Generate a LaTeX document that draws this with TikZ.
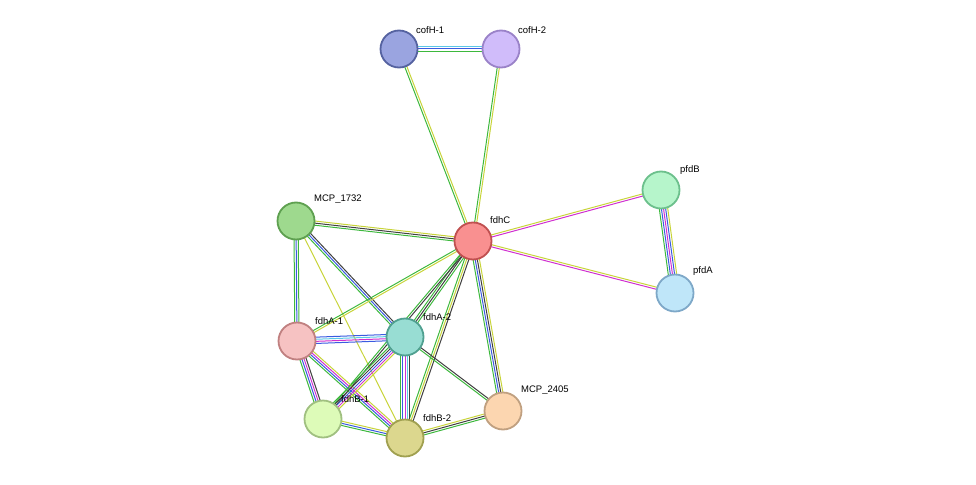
\documentclass[tikz,border=0pt]{standalone}
\usepackage{fontspec}
\setmainfont{Liberation Sans}
\usetikzlibrary{calc}
\definecolor{sgreen}{HTML}{3DB83D}
\definecolor{sblue}{HTML}{3B5BE0}
\definecolor{scyan}{HTML}{5CC8E8}
\definecolor{smag}{HTML}{D030D0}
\definecolor{syel}{HTML}{C8D43A}
\definecolor{sblack}{HTML}{404040}
\tikzset{
  prot/.style={circle,minimum size=37pt,inner sep=0pt,line width=1.8pt},
  lab/.style={font=\fontsize{9.5}{11}\selectfont,anchor=south west,inner sep=1pt},
}
% multi-coloured STRING edge
\newcommand{\sedge}[3]{%
  \foreach \c [count=\i] in {#3} {\xdef\nn{\i}}
  \foreach \c [count=\i] in {#3} {
    \pgfmathsetmacro{\o}{(\i-(\nn+1)/2)*2.1}
    \draw[\c,line width=1pt] ($(#1)!\o pt!90:(#2)$) -- ($(#2)!\o pt!-90:(#1)$);
  }}
\begin{document}
\begin{tikzpicture}[x=1pt,y=-1pt]
\useasboundingbox (0,0) rectangle (976,484);

\coordinate (cofH1) at (399,49);
\coordinate (cofH2) at (501,49);
\coordinate (pfdB) at (661,190);
\coordinate (fdhC) at (473,241);
\coordinate (mcp1732) at (296,221);
\coordinate (pfdA) at (675,293);
\coordinate (fdhA1) at (297,341);
\coordinate (fdhA2) at (405,337);
\coordinate (fdhB1) at (323,419);
\coordinate (fdhB2) at (405,438);
\coordinate (mcp2405) at (503,411);

\sedge{cofH1}{cofH2}{sgreen,sblue,scyan}
\sedge{cofH1}{fdhC}{sgreen,syel}
\sedge{cofH2}{fdhC}{sgreen,syel}
\sedge{fdhC}{pfdB}{smag,syel}
\sedge{fdhC}{pfdA}{smag,syel}
\sedge{pfdB}{pfdA}{sgreen,sblue,smag,sblue,syel}
\sedge{mcp1732}{fdhC}{sgreen,sblack,syel}
\sedge{mcp1732}{fdhA1}{sgreen,sblue,sgreen}
\sedge{mcp1732}{fdhA2}{sgreen,sblue,sblack}
\sedge{mcp1732}{fdhB2}{syel}
\sedge{fdhC}{fdhA1}{sgreen,syel}
\sedge{fdhC}{fdhA2}{sgreen,sblack,sgreen}
\sedge{fdhC}{fdhB1}{sgreen,sblack}
\sedge{fdhC}{fdhB2}{sgreen,syel,sblack}
\sedge{fdhC}{mcp2405}{sgreen,sblue,sblack,syel}
\sedge{fdhA1}{fdhA2}{sblue,smag,scyan,sblue}
\sedge{fdhA1}{fdhB1}{sgreen,sblue,smag,sblack}
\sedge{fdhA1}{fdhB2}{sgreen,sblue,smag,syel}
\sedge{fdhA2}{fdhB1}{sgreen,sblack,sblue,smag,syel}
\sedge{fdhA2}{fdhB2}{sgreen,sblue,smag,scyan,sblack}
\sedge{fdhA2}{mcp2405}{sgreen,sblack}
\sedge{fdhB1}{fdhB2}{sgreen,sblue,syel}
\sedge{fdhB2}{mcp2405}{sgreen,sblack,syel}

\node[prot,fill={rgb,255:red,154;green,164;blue,224},draw={rgb,255:red,85;green,98;blue,160}] (n1) at (cofH1) {};
\node[prot,fill={rgb,255:red,208;green,188;blue,250},draw={rgb,255:red,154;green,130;blue,200}] (n2) at (cofH2) {};
\node[prot,fill={rgb,255:red,182;green,245;blue,203},draw={rgb,255:red,108;green,192;blue,140}] (n3) at (pfdB) {};
\node[prot,fill={rgb,255:red,249;green,144;blue,144},draw={rgb,255:red,192;green,80;blue,80}] (n4) at (fdhC) {};
\node[prot,fill={rgb,255:red,158;green,217;blue,142},draw={rgb,255:red,94;green,160;blue,80}] (n5) at (mcp1732) {};
\node[prot,fill={rgb,255:red,191;green,230;blue,249},draw={rgb,255:red,126;green,168;blue,200}] (n6) at (pfdA) {};
\node[prot,fill={rgb,255:red,246;green,194;blue,194},draw={rgb,255:red,192;green,128;blue,128}] (n7) at (fdhA1) {};
\node[prot,fill={rgb,255:red,152;green,221;blue,211},draw={rgb,255:red,80;green,160;blue,144}] (n8) at (fdhA2) {};
\node[prot,fill={rgb,255:red,221;green,251;blue,184},draw={rgb,255:red,160;green,192;blue,128}] (n9) at (fdhB1) {};
\node[prot,fill={rgb,255:red,220;green,215;blue,142},draw={rgb,255:red,160;green,160;blue,80}] (n10) at (fdhB2) {};
\node[prot,fill={rgb,255:red,252;green,214;blue,176},draw={rgb,255:red,192;green,160;blue,128}] (n11) at (mcp2405) {};

\node[lab] at ($(cofH1)+(16,-14)$) {cofH-1};
\node[lab] at ($(cofH2)+(16,-14)$) {cofH-2};
\node[lab] at ($(pfdB)+(18,-14)$) {pfdB};
\node[lab] at ($(fdhC)+(16,-16)$) {fdhC};
\node[lab] at ($(mcp1732)+(17,-16)$) {MCP\_1732};
\node[lab] at ($(pfdA)+(17,-16)$) {pfdA};
\node[lab] at ($(fdhA1)+(17,-15)$) {fdhA-1};
\node[lab] at ($(fdhA2)+(17,-15)$) {fdhA-2};
\node[lab] at ($(fdhB1)+(17,-15)$) {fdhB-1};
\node[lab] at ($(fdhB2)+(17,-15)$) {fdhB-2};
\node[lab] at ($(mcp2405)+(17,-15)$) {MCP\_2405};
\end{tikzpicture}
\end{document}
